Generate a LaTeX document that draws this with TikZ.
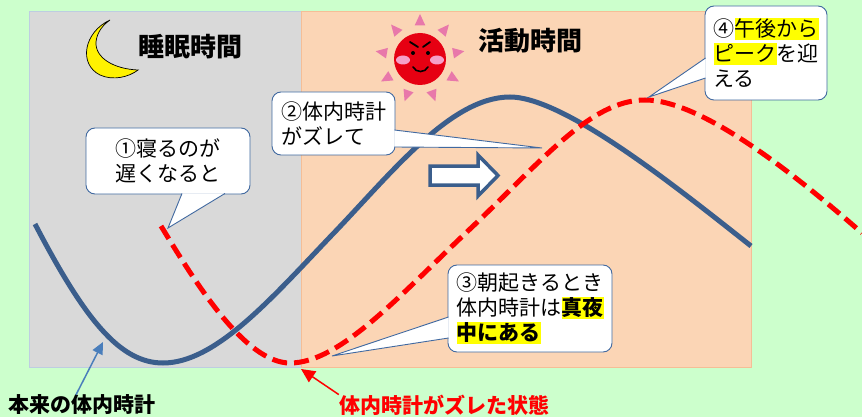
\documentclass[tikz,border=0pt]{standalone}
\usepackage{fontspec}
\setmainfont{Noto Sans CJK JP}
\usetikzlibrary{arrows.meta}

% yellow marker behind a word
\newcommand{\hl}[1]{{\setlength{\fboxsep}{0pt}\colorbox{hlyellow}{\rule[-0.14em]{0pt}{1.04em}#1}}}

\begin{document}
\begin{tikzpicture}[x=1pt, y=-1pt,
    bubble/.style={draw=calloutblue, fill=white, line width=0.9pt, rounded corners=9pt,
        align=left, inner sep=0pt, font=\fontsize{21}{25}\selectfont},
    bubbletip/.style={draw=calloutblue, fill=white, line width=0.9pt},
    heading/.style={font=\fontsize{26}{30}\selectfont\bfseries},
    footlabel/.style={inner sep=0pt, font=\fontsize{21}{25}\selectfont\bfseries},
    trueclock/.style={draw=clockblue, line width=5pt},
    shiftclock/.style={draw=red, line width=5pt, dash pattern=on 15pt off 7pt}]
    % Define colors
    \definecolor{bggreen}{RGB}{204,255,204}
    \definecolor{nightgray}{RGB}{217,217,217}
    \definecolor{nightedge}{RGB}{190,205,225}
    \definecolor{daypeach}{RGB}{251,213,181}
    \definecolor{dayedge}{RGB}{245,190,150}
    \definecolor{clockblue}{RGB}{59,94,140}
    \definecolor{calloutblue}{RGB}{65,105,160}
    \definecolor{arrowblue}{RGB}{74,126,187}
    \definecolor{hlyellow}{RGB}{255,255,0}
    \definecolor{sunred}{RGB}{230,0,18}
    \definecolor{raypink}{RGB}{232,120,170}
    \definecolor{cheekpink}{RGB}{245,160,200}

    % Background
    \fill[bggreen] (0,0) rectangle (862,417);
    \useasboundingbox (0,0) rectangle (862,417);

    % Night and day areas
    \filldraw[fill=nightgray, draw=nightedge, line width=0.6pt] (29,11) rectangle (301,367);
    \filldraw[fill=daypeach, draw=dayedge, line width=0.6pt] (301,11) rectangle (751,367);

    % Moon
    \filldraw[fill=yellow, draw=black, line width=0.7pt]
        (110,20) .. controls (84,32) and (78,64) .. (100,75)
        .. controls (113,81) and (129,77) .. (138,70)
        .. controls (114,69) and (95,58) .. (96,42)
        .. controls (97,32) and (103,25) .. (110,20) -- cycle;

    % Sun with rays and face
    \foreach \a in {30,70,...,350}
        \fill[raypink, shift={(420,59)}] (\a:45) -- (\a-9:34) -- (\a+9:34) -- cycle;
    \fill[sunred] (420,59) circle (26pt);
    \draw[black, line width=1.8pt, line cap=round] (410,42) -- (418,47) (423,47) -- (430,42);
    \fill[black] (413,53) circle (2pt) (428,53) circle (2pt);
    \fill[cheekpink] (403,60) ellipse (7pt and 4.5pt) (437,60) ellipse (7pt and 4.5pt);
    \draw[black, line width=1.6pt, line cap=round] (413,67) .. controls (416,73) and (425,73) .. (428,67);

    % Titles
    \node[heading] (night) at (190,47) {睡眠時間};
    \node[heading] (day) at (530,41) {活動時間};

    % Original body clock
    \draw[trueclock] (35,224) .. controls (85,320) and (120,363) .. (163,363)
        .. controls (215,363) and (270,300) .. (330,237)
        .. controls (390,175) and (450,97) .. (510,97)
        .. controls (565,97) and (680,190) .. (751,246);

    % Shifted body clock
    \draw[shiftclock] (161,226) .. controls (195,282) and (245,363) .. (290,363)
        .. controls (340,363) and (400,295) .. (470,229)
        .. controls (540,163) and (590,100) .. (645,100)
        .. controls (700,100) and (790,170) .. (862,233);

    % Shift arrow
    \filldraw[fill=white, draw=clockblue, line width=3.5pt, line join=miter]
        (430,166) -- (478,166) -- (478,155) -- (498,175.5) -- (478,196) -- (478,185) -- (430,185) -- cycle;

    % Callouts
    \node[bubble, minimum width=164, minimum height=66] (late) at (168,161) {①寝るのが\\遅くなると};
    \coordinate (latetip) at (168,228);
    \draw[bubbletip] ([xshift=14pt,yshift=1pt]late.south) -- (latetip) -- ([xshift=57pt,yshift=1pt]late.south);

    \node[bubble, minimum width=123, minimum height=63] (drift) at (333.5,123.5) {②体内時計\\がズレて};
    \coordinate (drifttip) at (542,148);
    \draw[bubbletip] ([xshift=-1pt,yshift=-6.5pt]drift.east) -- (drifttip) -- ([xshift=-1pt,yshift=-23.5pt]drift.east);

    \node[bubble, minimum width=164, minimum height=87] (wake) at (530,308.5)
        {③朝起きるとき\\体内時計は\hl{\textbf{真夜}}\\\hl{\textbf{中にある}}};
    \coordinate (waketip) at (332,356);
    \draw[bubbletip] ([xshift=1pt,yshift=-8.5pt]wake.west) -- (waketip) -- ([xshift=1pt,yshift=-29.5pt]wake.west);

    \node[bubble, minimum width=122, minimum height=94] (peak) at (766,53) {④\hl{午後から}\\\hl{ピーク}を迎\\える};
    \coordinate (peaktip) at (649,97);
    \draw[bubbletip] ([xshift=1pt,yshift=-5pt]peak.west) -- (peaktip) -- ([xshift=1pt,yshift=-25pt]peak.west);

    % Bottom labels
    \node[footlabel] (truelabel) at (82,405) {本来の体内時計};
    \node[footlabel, text=red] (shiftlabel) at (444,405) {体内時計がズレた状態};
    \coordinate (trueend) at (103,342);
    \coordinate (shiftend) at (301,369);
    \draw[arrowblue, line width=1.5pt, -{Triangle[length=12pt, width=11pt]}] ([xshift=-6pt]truelabel.north) -- (trueend);
    \draw[red, line width=1.5pt, -{Triangle[length=14pt, width=13pt]}] (shiftlabel.north west) -- (shiftend);
\end{tikzpicture}
\end{document}
